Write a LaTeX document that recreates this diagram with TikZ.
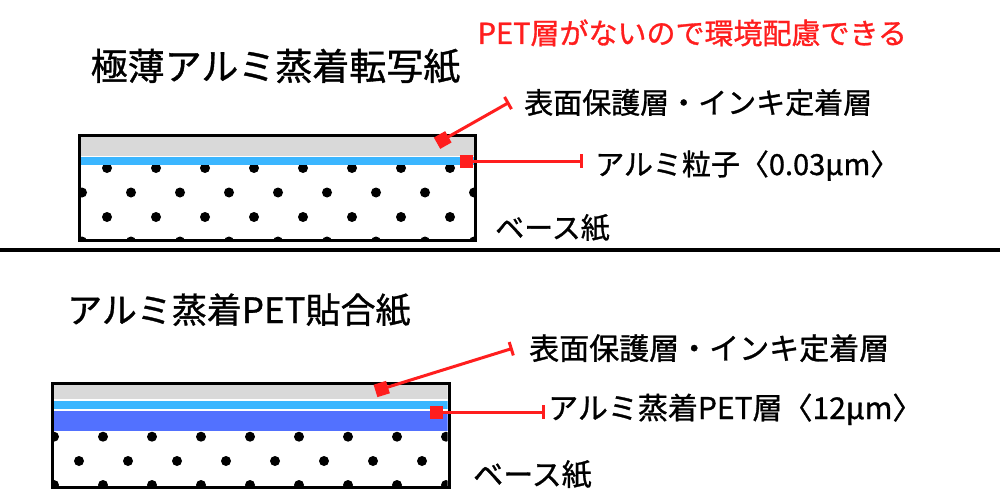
\documentclass[tikz,border=0pt]{standalone}
\usepackage{fontspec}
\setmainfont{Noto Sans CJK JP}[FakeBold=1.0]
\usetikzlibrary{arrows.meta}
\definecolor{ared}{RGB}{255,30,30}
\definecolor{agray}{RGB}{217,217,217}
\definecolor{lblue}{RGB}{59,182,255}
\definecolor{dblue}{RGB}{82,113,255}
\tikzset{
  leader/.style={draw=ared, line width=3pt, -{Bar[width=14pt]}},
  sqmark/.style={rectangle, fill=ared, minimum size=13pt, inner sep=0pt, sloped},
  lab/.style={anchor=base west, inner sep=0pt, font=\fontsize{29pt}{32pt}\selectfont},
  labb/.style={anchor=base west, inner sep=0pt, font=\fontsize{30pt}{33pt}\selectfont},
  dot/.style={fill=black},
  frame/.style={draw=black, line width=3pt},
}
\begin{document}
\begin{tikzpicture}[x=1pt,y=-1pt]
\useasboundingbox (0,0) rectangle (1000,500);
\fill[white] (0,0) rectangle (1000,500);

% ---------- top sample ----------
\begin{scope}
  \clip (81,137) rectangle (474,239);
  \foreach \r in {168,217} {\foreach \k in {0,...,7} {\fill[dot] ({107+49*\k},\r) circle (5);}}
  \foreach \r in {192.5,241.5} {\foreach \k in {0,...,8} {\fill[dot] ({82+49*\k},\r) circle (5);}}
  \fill[agray] (81,137) rectangle (474,156.3);
  \fill[lblue] (81,157) rectangle (474,165);
\end{scope}
\draw[frame] (79.5,135.5) rectangle (475.5,240.5);

% ground line
\draw[line width=4.5pt] (0,250) -- (1000,250);

% ---------- bottom sample ----------
\begin{scope}
  \clip (53.7,384.7) rectangle (447.7,486);
  \foreach \r in {436.7,485} {\foreach \k in {0,...,8} {\fill[dot] ({54+49*\k},\r) circle (5);}}
  \foreach \r in {461} {\foreach \k in {0,...,7} {\fill[dot] ({79+49*\k},\r) circle (5);}}
  \fill[agray] (53.7,384.7) rectangle (447.7,399);
  \fill[lblue] (53.7,401) rectangle (447.7,409);
  \fill[dblue] (53.7,411) rectangle (447.7,431);
\end{scope}
\draw[frame] (52.2,383.2) rectangle (449.2,487.5);

% ---------- texts ----------
\node[anchor=base west, inner sep=0pt, font=\fontsize{37pt}{40pt}\selectfont] (t1) at (90.5,80) {極薄アルミ蒸着転写紙};
\node[anchor=base west, inner sep=0pt, font=\fontsize{35pt}{38pt}\selectfont] (t2) at (67,323) {アルミ蒸着PET貼合紙};
\node[lab, text=ared] (note) at (477.5,44) {PET層がないので環境配慮できる};
\node[lab] (l1) at (524,113.5) {表面保護層・インキ定着層};
\node[lab] (l2) at (595,175) {アルミ粒子〈0.03μm〉};
\node[lab] (l3) at (495,238.5) {ベース紙};
\node[labb] (l4) at (529,359.5) {表面保護層・インキ定着層};
\node[labb] (l5) at (548,419) {アルミ蒸着PET層〈12μm〉};
\node[labb] (l6) at (473,485.5) {ベース紙};

% ---------- leaders ----------
\coordinate (s1) at (442.7,140);
\coordinate (b1) at (509.3,102.3);
\coordinate (s2) at (466.7,161);
\coordinate (b2) at (583.3,161);
\coordinate (s3) at (381.7,389);
\coordinate (b3) at (512.7,348.3);
\coordinate (s4) at (436.7,412.3);
\coordinate (b4) at (545,412.3);
\draw[leader] (s1) -- (b1) node[sqmark, pos=0] {};
\draw[leader] (s2) -- (b2) node[sqmark, pos=0] {};
\draw[leader] (s3) -- (b3) node[sqmark, pos=0] {};
\draw[leader] (s4) -- (b4) node[sqmark, pos=0] {};
\end{tikzpicture}
\end{document}
